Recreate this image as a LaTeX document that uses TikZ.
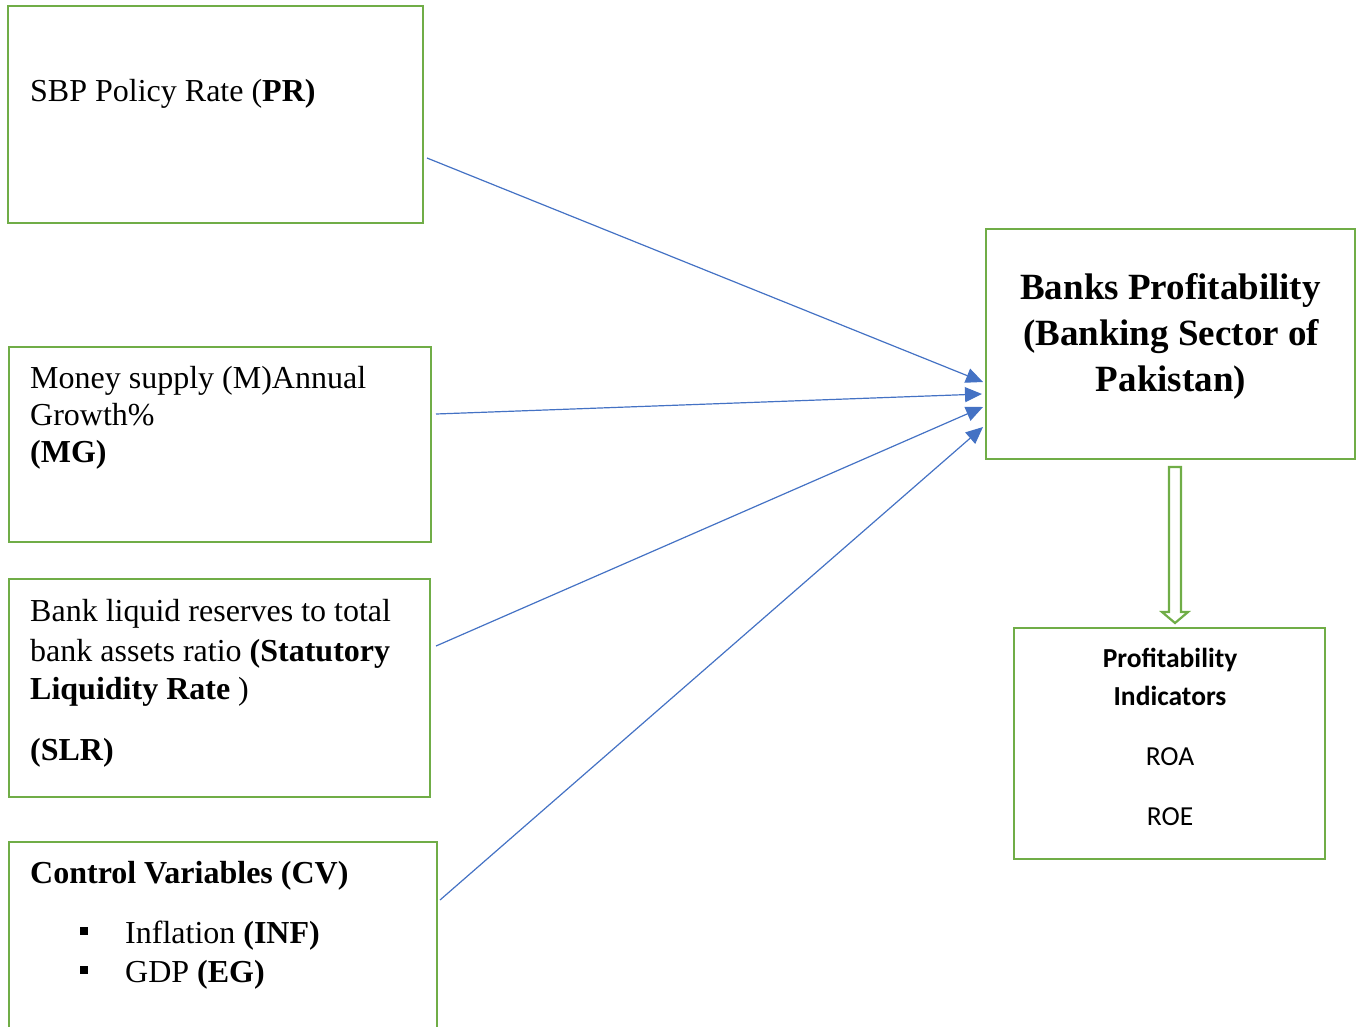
\documentclass[tikz,border=0pt]{standalone}
\usepackage{fontspec}
\setmainfont{Liberation Serif}
\newfontfamily\calfont{Carlito}
\usetikzlibrary{arrows.meta}
\definecolor{boxgreen}{RGB}{112,173,71}
\definecolor{arrblue}{RGB}{68,114,196}
\tikzset{
  gbox/.style={draw=boxgreen, line width=2.8pt, rectangle, inner sep=0pt},
  txt/.style={anchor=base west, inner sep=0pt, font=\fontsize{32}{37}\selectfont},
  btxt/.style={anchor=base, inner sep=0pt, font=\fontsize{37}{42}\selectfont\bfseries},
  ctxt/.style={anchor=base, inner sep=0pt, font=\fontsize{27.5}{30}\selectfont\calfont},
  cbtxt/.style={ctxt, font=\fontsize{27.5}{30}\selectfont\calfont\bfseries},
  link/.style={draw=arrblue, line width=1.2pt, -{Triangle[length=17pt,width=15pt]}}
}
\begin{document}
\begin{tikzpicture}[x=1pt,y=-1pt]
\useasboundingbox (0,0) rectangle (1357,1026);
% boxes
\node[gbox, minimum width=415pt, minimum height=217pt] (pr) at (215.5,114.5) {};
\node[gbox, minimum width=422pt, minimum height=195pt] (mg) at (220,444.5) {};
\node[gbox, minimum width=421pt, minimum height=218pt] (slr) at (219.5,688) {};
\node[gbox, minimum width=428pt, minimum height=200pt] (cv) at (223,942) {};
\node[gbox, minimum width=369pt, minimum height=230pt] (bank) at (1170.5,344) {};
\node[gbox, minimum width=311pt, minimum height=231pt] (prof) at (1169.5,743.5) {};
% texts
\node[txt] (t1) at (30,101) {SBP Policy Rate (\textbf{PR)}};
\node[txt] (t2a) at (30,388) {Money supply (M)Annual};
\node[txt] (t2b) at (30,425) {Growth\%};
\node[txt] (t2c) at (30,462) {\textbf{(MG)}};
\node[txt] (t3a) at (30,621) {Bank liquid reserves to total};
\node[txt] (t3b) at (30,661) {bank assets ratio \textbf{(Statutory}};
\node[txt] (t3c) at (30,699) {\textbf{Liquidity Rate} )};
\node[txt] (t3d) at (30,760) {\textbf{(SLR)}};
\node[txt] (t4a) at (30,883) {\textbf{Control Variables (CV)}};
\node[txt] (t4b) at (125,943) {Inflation \textbf{(INF)}};
\node[txt] (t4c) at (125,982) {GDP \textbf{(EG)}};
\fill (80,927) rectangle (88,935);
\fill (80,966) rectangle (88,974);
\node[btxt] (b1) at (1170.5,299) {Banks Profitability};
\node[btxt] (b2) at (1171,345) {(Banking Sector of};
\node[btxt] (b3) at (1171,391) {Pakistan)};
\node[cbtxt] (p1) at (1170,667) {Profitability};
\node[cbtxt] (p2) at (1170,705) {Indicators};
\node[ctxt] (p3) at (1170,765) {ROA};
\node[ctxt] (p4) at (1170,825) {ROE};
% connectors
\coordinate (s1) at (427,158);
\coordinate (s2) at (436,414);
\coordinate (s3) at (436,646);
\coordinate (s4) at (440,900);
\coordinate (e1) at (983,382);
\coordinate (e2) at (982,394);
\coordinate (e3) at (983,407);
\coordinate (e4) at (983,427);
\draw[link] (s1) -- (e1);
\draw[link] (s2) -- (e2);
\draw[link] (s3) -- (e3);
\draw[link] (s4) -- (e4);
% hollow block arrow
\draw[boxgreen, line width=2.2pt, line join=miter]
  (1169,467) -- (1181,467) -- (1181,612) -- (1188,612) -- (1175,623)
  -- (1162,612) -- (1169,612) -- cycle;
\end{tikzpicture}
\end{document}
